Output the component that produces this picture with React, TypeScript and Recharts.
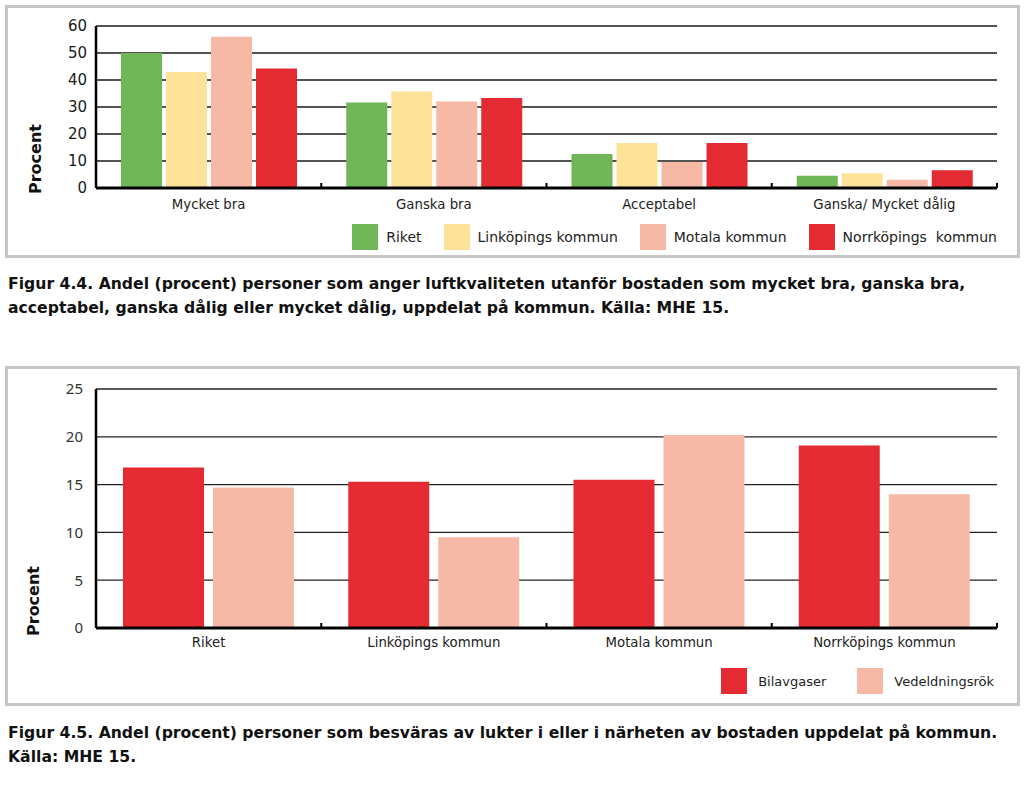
import React from "react";
import { BarChart, Bar, XAxis, YAxis, CartesianGrid, Legend } from "recharts";

// Figur 4.4 – luftkvalitet utanför bostaden
const categories1 = ["Mycket bra", "Ganska bra", "Acceptabel", "Ganska/ Mycket dålig"];
const riket1 = [50, 31.7, 12.6, 4.5];
const linkoping1 = [43, 35.7, 16.7, 5.5];
const motala1 = [56, 32, 9.6, 3.1];
const norrkoping1 = [44.3, 33.3, 16.7, 6.6];
const ticks1 = [0, 10, 20, 30, 40, 50, 60];

// Figur 4.5 – besväras av lukter
const categories2 = ["Riket", "Linköpings kommun", "Motala kommun", "Norrköpings kommun"];
const bilavgaser2 = [16.8, 15.3, 15.5, 19.1];
const vedeldning2 = [14.7, 9.5, 20.2, 14.0];
const ticks2 = [0, 5, 10, 15, 20, 25];

const GREEN = "#71b659";
const YELLOW = "#fde39a";
const PINK = "#f6b9a6";
const RED = "#e42a32";

const data1 = categories1.map((c, i) => ({
	cat: c,
	riket: riket1[i],
	linkoping: linkoping1[i],
	motala: motala1[i],
	norrkoping: norrkoping1[i],
}));

const data2 = categories2.map((c, i) => ({
	cat: c,
	bil: bilavgaser2[i],
	ved: vedeldning2[i],
}));

const chartFont = "'DejaVu Sans', Verdana, sans-serif";

function CategoryTick(props: any) {
	const { x, y, payload, dy } = props;
	const half = payload && payload.offset ? payload.offset : 0;
	return (
		<g>
			<text x={x} y={y + dy} textAnchor="middle" dominantBaseline="central" fontSize={13.3} fontFamily={chartFont} fill="#222">
				{payload.value}
			</text>
			{half > 0 && <line x1={x + half} x2={x + half} y1={y} y2={y - 5} stroke="#000" strokeWidth={2} />}
		</g>
	);
}

function ProcentLabel(props: any) {
	const { viewBox, dx, up } = props;
	const cx = viewBox.x + viewBox.width + dx;
	const cy = viewBox.y + viewBox.height - up;
	return (
		<text x={cx} y={cy} transform={`rotate(-90 ${cx} ${cy})`} textAnchor="middle" dominantBaseline="central" fontSize={16} fontWeight="bold" fontFamily={chartFont} fill="#111">
			Procent
		</text>
	);
}

// legend keeps the series order (Recharts sorts by name otherwise)
function makeLegend(order: string[], fontSize: number, textGap: number, itemGap: number) {
	return (props: any) => {
		const items = [...(props.payload || [])].sort((a: any, b: any) => order.indexOf(a.dataKey) - order.indexOf(b.dataKey));
		return (
			<div style={{ display: "flex", alignItems: "center", fontFamily: chartFont, fontSize, color: "#222" }}>
				{items.map((it: any, i: number) => (
					<div key={i} style={{ display: "flex", alignItems: "center", marginLeft: i === 0 ? 0 : itemGap }}>
						<div style={{ width: 26, height: 26, background: it.color }} />
						<span style={{ marginLeft: textGap, whiteSpace: "pre" }}>{it.value}</span>
					</div>
				))}
			</div>
		);
	};
}

const boxStyle: React.CSSProperties = {
	position: "absolute",
	left: 5,
	width: 1015,
	border: "3px solid #c6c6c6",
	boxSizing: "border-box",
	background: "#fff",
};

const captionStyle: React.CSSProperties = {
	position: "absolute",
	left: 8,
	width: 1014,
	fontFamily: "'DejaVu Sans', Verdana, sans-serif",
	fontWeight: "bold",
	fontSize: 15.65,
	lineHeight: "24px",
	color: "#111",
	whiteSpace: "nowrap",
};

export default function App() {
	return (
		<div style={{ position: "absolute", left: 0, top: 0, width: 1024, height: 788, background: "#fff", overflow: "hidden" }}>
			<div style={{ ...boxStyle, top: 5, height: 253 }} />
			<div style={{ ...boxStyle, top: 366, height: 340 }} />

			<div style={{ position: "absolute", left: 0, top: 0 }}>
				<BarChart width={1024} height={258} data={data1} margin={{ top: 26, right: 27, left: 36, bottom: 30 }} barSize={41} barGap={4}>
					<CartesianGrid vertical={false} stroke="#1a1a1a" strokeWidth={1.4} />
					<XAxis dataKey="cat" height={40} tickLine={false} tickSize={0} tickMargin={0} axisLine={{ stroke: "#000", strokeWidth: 3 }} tick={<CategoryTick dy={16} />} interval={0} />
					<YAxis width={60} domain={[0, 60]} ticks={ticks1} tickLine={false} tickSize={6} tickMargin={3} axisLine={{ stroke: "#000", strokeWidth: 2.5 }} tick={{ fontSize: 15, fill: "#1a1a1a", fontFamily: chartFont }} label={<ProcentLabel dx={-61} up={29} />} />
					<Legend layout="horizontal" verticalAlign="middle" align="center" content={makeLegend(["riket", "linkoping", "motala", "norrkoping"], 14, 8, 22)} wrapperStyle={{ top: 224, left: "auto", right: 27, width: "auto", height: 26 }} />
					<Bar dataKey="riket" name="Riket" fill={GREEN} isAnimationActive={false} />
					<Bar dataKey="linkoping" name="Linköpings kommun" fill={YELLOW} isAnimationActive={false} />
					<Bar dataKey="motala" name="Motala kommun" fill={PINK} isAnimationActive={false} />
					<Bar dataKey="norrkoping" name="Norrköpings  kommun" fill={RED} isAnimationActive={false} />
				</BarChart>
			</div>

			<div style={{ ...captionStyle, top: 272 }}>
				Figur 4.4. Andel (procent) personer som anger luftkvaliteten utanför bostaden som mycket bra, ganska bra,
				<br />
				acceptabel, ganska dålig eller mycket dålig, uppdelat på kommun. Källa: MHE 15.
			</div>

			<div style={{ position: "absolute", left: 0, top: 366 }}>
				<BarChart width={1024} height={340} data={data2} margin={{ top: 23, right: 27, left: 36, bottom: 38 }} barSize={81} barGap={9}>
					<CartesianGrid vertical={false} stroke="#222" strokeWidth={1.3} />
					<XAxis dataKey="cat" height={40} tickLine={false} tickSize={0} tickMargin={0} axisLine={{ stroke: "#000", strokeWidth: 3 }} tick={<CategoryTick dy={14} />} interval={0} />
					<YAxis width={60} domain={[0, 25]} ticks={ticks2} tickLine={false} tickSize={6} tickMargin={7} axisLine={{ stroke: "#000", strokeWidth: 2.5 }} tick={{ fontSize: 15, fill: "#333", fontFamily: "'Noto Sans', sans-serif" }} label={<ProcentLabel dx={-63} up={27} />} />
					<Legend layout="horizontal" verticalAlign="middle" align="center" content={makeLegend(["bil", "ved"], 13, 11, 31)} wrapperStyle={{ top: 302, left: "auto", right: 30, width: "auto", height: 26 }} />
					<Bar dataKey="bil" name="Bilavgaser" fill={RED} isAnimationActive={false} />
					<Bar dataKey="ved" name="Vedeldningsrök" fill={PINK} isAnimationActive={false} />
				</BarChart>
			</div>

			<div style={{ ...captionStyle, top: 721 }}>
				Figur 4.5. Andel (procent) personer som besväras av lukter i eller i närheten av bostaden uppdelat på kommun.
				<br />
				Källa: MHE 15.
			</div>
		</div>
	);
}
